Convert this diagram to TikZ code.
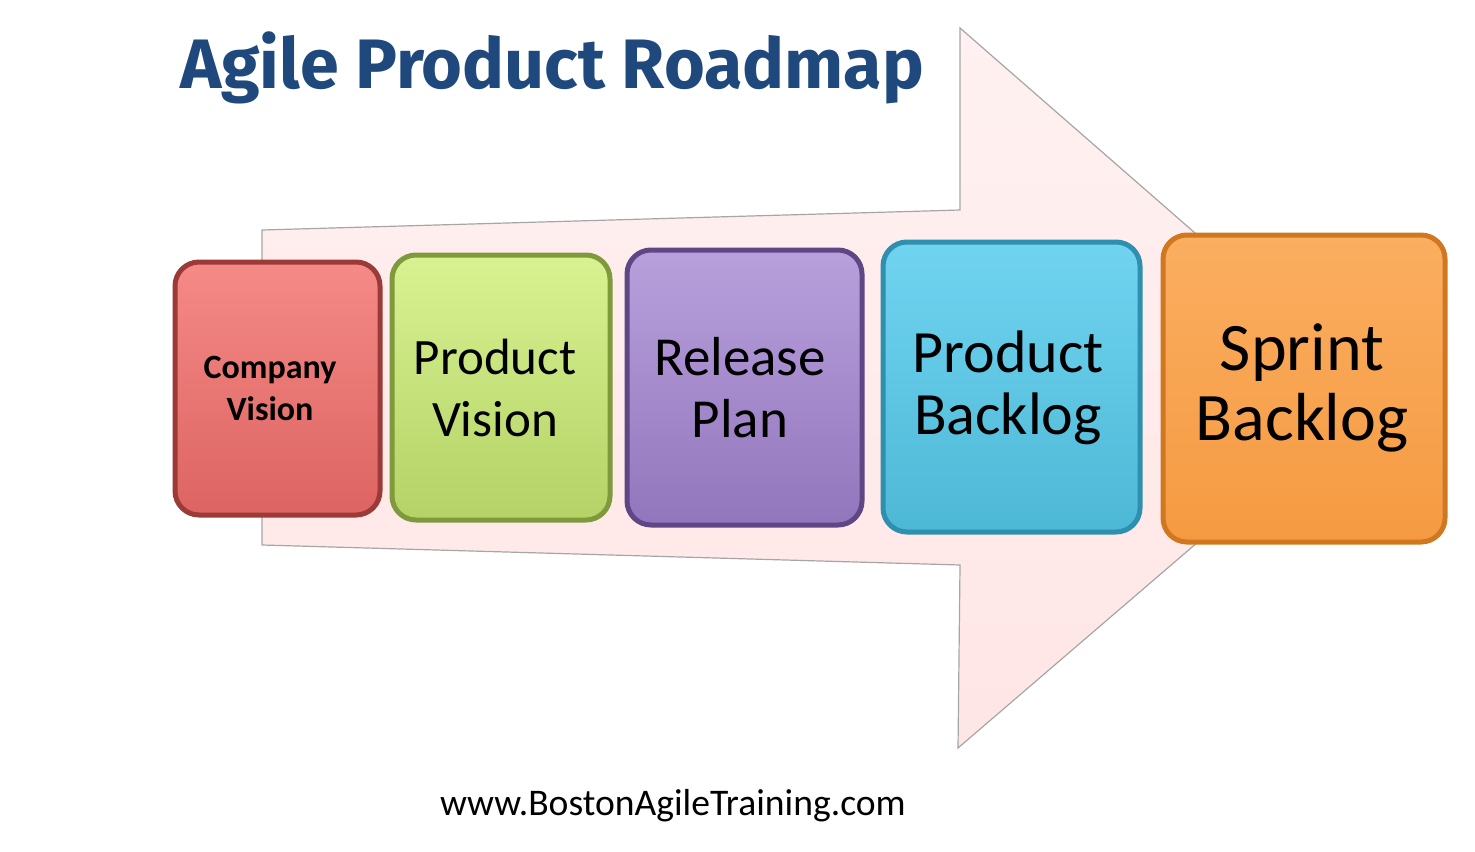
\documentclass[tikz,border=0pt]{standalone}
\usepackage{fontspec}
\setmainfont{Carlito}
\newfontfamily\titlefont{Fira Sans}
\begin{document}
\begin{tikzpicture}[x=0.5pt,y=-0.5pt,
  stage/.style={rounded corners=12pt,line width=2.5pt,align=center,inner sep=0pt}]
\useasboundingbox (0,0) rectangle (1475,851);
\definecolor{navy}{HTML}{1F497D}
\definecolor{rT}{HTML}{F58A86}\definecolor{rB}{HTML}{DC6462}\definecolor{rD}{HTML}{9C3A38}
\definecolor{gT}{HTML}{D8F291}\definecolor{gB}{HTML}{B4D266}\definecolor{gD}{HTML}{7E9A3C}
\definecolor{pT}{HTML}{B8A0DC}\definecolor{pB}{HTML}{9276BC}\definecolor{pD}{HTML}{5E4784}
\definecolor{cT}{HTML}{70D4F0}\definecolor{cB}{HTML}{4DB8D6}\definecolor{cD}{HTML}{2E8FAE}
\definecolor{oT}{HTML}{FBAE60}\definecolor{oB}{HTML}{F59A42}\definecolor{oD}{HTML}{D07820}
% big arrow
\path[draw=black!35,line width=0.6pt,top color=pink!22,bottom color=pink!40]
  (262,230) -- (960,210) -- (960,28) -- (1375,390) -- (958,748) -- (960,565) -- (262,545) -- cycle;
\newcommand\stagebox[8]{%
  \path[stage,draw=#6,top color=#7,bottom color=#8] (#2,#3) rectangle (#4,#5);
  \coordinate (#1) at ({(#2+#4)/2},{(#3+#5)/2});}
\stagebox{cv}{175}{262}{380}{515}{rD}{rT}{rB}
\stagebox{pv}{392}{255}{610}{520}{gD}{gT}{gB}
\stagebox{rp}{627}{250}{862}{525}{pD}{pT}{pB}
\stagebox{pb}{883}{242}{1140}{532}{cD}{cT}{cB}
\stagebox{sb}{1163}{235}{1445}{542}{oD}{oT}{oB}
\node[align=center,font=\fontsize{17}{21}\selectfont\bfseries] at (270,388) {Company\\Vision};
\node[align=center,font=\fontsize{25.5}{31}\selectfont] at (495,388) {Product\\Vision};
\node[align=center,font=\fontsize{27.5}{31}\selectfont] at (740,388) {Release\\Plan};
\node[align=center,font=\fontsize{30}{31}\selectfont] at (1008,388) {Product\\Backlog};
\node[align=center,font=\fontsize{34}{35}\selectfont] at (1302,388) {Sprint\\Backlog};
\node[font=\titlefont\fontsize{35}{38}\selectfont\bfseries,text=navy] (title) at (552,68) {Agile Product Roadmap};
\node[font=\fontsize{18.8}{21}\selectfont] (url) at (673,806) {www.BostonAgileTraining.com};
\end{tikzpicture}
\end{document}
